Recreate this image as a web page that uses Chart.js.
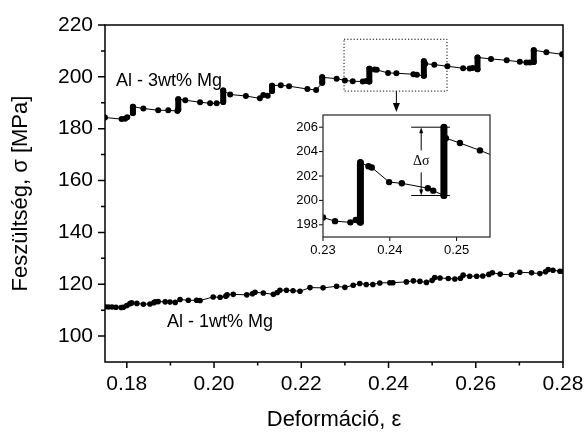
<!DOCTYPE html>
<html>
<head>
<meta charset="utf-8">
<script src="https://cdn.jsdelivr.net/npm/chart.js@4.4.0/dist/chart.umd.min.js"></script>
<style>
  body { margin: 0; background: #fff; }
  #wrap { position: relative; width: 588px; height: 433px; }
  #mainChart { position: absolute; left: 0; top: 0; }
  #insetChart { position: absolute; left: 270px; top: 105px; }
</style>
</head>
<body>
<div id="wrap">
  <canvas id="mainChart" width="588" height="433"></canvas>
  <canvas id="insetChart" width="230" height="160"></canvas>
</div>
<script>
const FONT = '"Liberation Sans", Arial, sans-serif';

// --- DATA ---
// Al - 3wt% Mg (jump ends listed twice: bottom then top)
const upStrain = [0.1750, 0.1788, 0.1796, 0.1801, 0.1814, 0.1814, 0.1838, 0.1872, 0.1895, 0.1916,
  0.1918, 0.1918, 0.1934, 0.1968, 0.1991, 0.2006, 0.2021, 0.2021, 0.2037, 0.2073,
  0.2105, 0.2113, 0.2123, 0.2133, 0.2133, 0.2153, 0.2172, 0.2214, 0.2234, 0.2248,
  0.2248, 0.2281, 0.2300, 0.2318, 0.2341, 0.2349, 0.2354, 0.2356, 0.2356, 0.2368,
  0.2373, 0.2399, 0.2418, 0.2457, 0.2465, 0.2481, 0.2481, 0.2484, 0.2505, 0.2535,
  0.2571, 0.2586, 0.2593, 0.2604, 0.2604, 0.2635, 0.2671, 0.2701, 0.2716, 0.2724,
  0.2733, 0.2733, 0.2762, 0.2798, 0.2800];
const upStress = [184.3, 183.7, 183.8, 184.4, 186.1, 188.5, 187.8, 187.1, 187.1, 186.8,
  187.4, 191.4, 191.0, 190.2, 189.8, 189.8, 190.3, 194.7, 193.2, 192.6,
  191.7, 193.0, 192.7, 194.5, 196.6, 196.8, 196.4, 195.3, 194.9, 197.7,
  199.8, 199.3, 198.6, 198.3, 198.2, 198.4, 198.3, 198.2, 203.1, 202.8,
  202.7, 201.5, 201.4, 201.0, 200.8, 200.4, 206.0, 205.1, 204.7, 204.1,
  203.3, 203.2, 203.4, 202.9, 207.5, 206.9, 206.4, 205.8, 205.5, 205.5,
  205.7, 210.3, 209.5, 208.7, 208.6];

// serration jumps (drawn as dense bars of points)
const jumpStrain = [0.1814, 0.1918, 0.2021, 0.2133, 0.2248, 0.2356, 0.2481, 0.2604, 0.2733];
const jumpLow    = [186.1, 187.4, 190.3, 194.5, 197.7, 198.2, 200.4, 202.9, 205.7];
const jumpHigh   = [188.5, 191.4, 194.7, 196.6, 199.8, 203.1, 206.0, 207.5, 210.3];

// Al - 1wt% Mg
const lowStrain = [0.1750, 0.1758, 0.1766, 0.1775, 0.1787, 0.1792, 0.1800, 0.1807, 0.1811, 0.1823,
  0.1838, 0.1853, 0.1862, 0.1865, 0.1872, 0.1888, 0.1899, 0.1911, 0.1922, 0.1941,
  0.1960, 0.1968, 0.1998, 0.2014, 0.2027, 0.2030, 0.2044, 0.2075, 0.2088, 0.2094,
  0.2113, 0.2136, 0.2145, 0.2151, 0.2166, 0.2181, 0.2197, 0.2220, 0.2250, 0.2281,
  0.2300, 0.2319, 0.2334, 0.2349, 0.2364, 0.2380, 0.2403, 0.2410, 0.2441, 0.2457,
  0.2472, 0.2487, 0.2500, 0.2506, 0.2518, 0.2537, 0.2552, 0.2565, 0.2571, 0.2586,
  0.2602, 0.2616, 0.2630, 0.2638, 0.2656, 0.2682, 0.2701, 0.2728, 0.2747, 0.2760,
  0.2766, 0.2777, 0.2793, 0.2800];
const lowStress = [111.3, 111.2, 111.2, 111.1, 111.0, 111.1, 111.8, 112.5, 112.8, 112.6,
  112.3, 112.4, 112.9, 113.2, 113.3, 113.2, 113.1, 113.0, 114.1, 113.8,
  113.8, 113.7, 115.1, 115.0, 115.4, 115.9, 116.1, 115.9, 116.3, 116.9,
  116.6, 116.1, 116.8, 117.7, 117.7, 117.5, 117.3, 118.7, 118.6, 119.2,
  118.8, 119.6, 120.3, 119.9, 119.9, 120.5, 120.6, 120.6, 120.9, 121.3,
  121.1, 120.7, 121.5, 122.6, 122.4, 122.2, 122.0, 122.3, 123.5, 123.1,
  123.1, 123.2, 123.8, 124.4, 123.9, 123.6, 124.6, 124.4, 124.1, 124.8,
  125.7, 125.4, 125.0, 125.0];

// tick values
const xTicksMain = [0.18, 0.20, 0.22, 0.24, 0.26, 0.28];
const xMinorMain = [0.19, 0.21, 0.23, 0.25, 0.27];
const yTicksMain = [100, 120, 140, 160, 180, 200, 220];
const yMinorMain = [110, 130, 150, 170, 190, 210];
const xTicksInset = [0.23, 0.24, 0.25];
const yTicksInset = [198, 200, 202, 204, 206];

function pairs(xs, ys) {
  return xs.map((x, i) => ({ x: x, y: ys[i] }));
}

// bottom/top of each jump, with a gap between jumps
function jumpBars() {
  const out = [];
  jumpStrain.forEach((x, i) => {
    out.push({ x: x, y: jumpLow[i] }, { x: x, y: jumpHigh[i] }, { x: x, y: null });
  });
  return out;
}

function seriesSets(pr, barW) {
  return [
    { data: pairs(upStrain, upStress), showLine: true, borderColor: '#000', borderWidth: 1,
      pointRadius: pr, pointBackgroundColor: '#000', pointBorderWidth: 0 },
    { data: jumpBars(), showLine: true, borderColor: '#000', borderWidth: barW,
      borderCapStyle: 'round', pointRadius: 0, spanGaps: false }
  ];
}

// --- MAIN CHART ---
const mainDecor = {
  id: 'mainDecor',
  afterDraw(chart) {
    const { ctx, chartArea: a, scales: { x, y } } = chart;
    ctx.save();
    ctx.strokeStyle = '#000';
    ctx.fillStyle = '#000';
    ctx.lineWidth = 1.5;
    ctx.strokeRect(a.left, a.top, a.right - a.left, a.bottom - a.top);

    ctx.beginPath();
    xTicksMain.forEach(v => { const p = x.getPixelForValue(v); ctx.moveTo(p, a.bottom); ctx.lineTo(p, a.bottom + 6); });
    xMinorMain.forEach(v => { const p = x.getPixelForValue(v); ctx.moveTo(p, a.bottom); ctx.lineTo(p, a.bottom + 3.5); });
    yTicksMain.forEach(v => { const p = y.getPixelForValue(v); ctx.moveTo(a.left, p); ctx.lineTo(a.left - 7, p); });
    yMinorMain.forEach(v => { const p = y.getPixelForValue(v); ctx.moveTo(a.left, p); ctx.lineTo(a.left - 4, p); });
    ctx.stroke();

    ctx.font = '18px ' + FONT;
    ctx.textBaseline = 'alphabetic';
    ctx.fillText('Al - 3wt% Mg', x.getPixelForValue(0.1775), y.getPixelForValue(196.3));
    ctx.fillText('Al - 1wt% Mg', x.getPixelForValue(0.1892), y.getPixelForValue(103.5));

    // dotted zoom box
    const bx0 = x.getPixelForValue(0.2298), bx1 = x.getPixelForValue(0.2534);
    const by0 = y.getPixelForValue(214.5), by1 = y.getPixelForValue(194.5);
    ctx.lineWidth = 1;
    ctx.setLineDash([1.2, 2]);
    ctx.strokeRect(bx0, by0, bx1 - bx0, by1 - by0);
    ctx.setLineDash([]);

    // arrow down to inset
    const ax = x.getPixelForValue(0.2418);
    ctx.beginPath();
    ctx.moveTo(ax, by1);
    ctx.lineTo(ax, by1 + 14);
    ctx.stroke();
    ctx.beginPath();
    ctx.moveTo(ax - 3.5, by1 + 12);
    ctx.lineTo(ax + 3.5, by1 + 12);
    ctx.lineTo(ax, by1 + 21);
    ctx.closePath();
    ctx.fill();
    ctx.restore();
  }
};

new Chart(document.getElementById('mainChart'), {
  type: 'scatter',
  data: {
    datasets: seriesSets(3, 6).concat([
      { data: pairs(lowStrain, lowStress), showLine: true, borderColor: '#000', borderWidth: 1,
        pointRadius: 2.8, pointBackgroundColor: '#000', pointBorderWidth: 0 }
    ])
  },
  options: {
    responsive: false,
    animation: false,
    devicePixelRatio: 1,
    layout: { padding: { top: 25, right: 25, left: 0, bottom: 0 } },
    plugins: { legend: { display: false }, tooltip: { enabled: false } },
    scales: {
      x: {
        type: 'linear', position: 'bottom', min: 0.175, max: 0.28,
        grid: { display: false, drawTicks: false }, border: { display: false },
        afterBuildTicks: s => { s.ticks = xTicksMain.map(v => ({ value: v })); },
        afterFit: s => { s.height = 71; s.paddingLeft = 0; s.paddingRight = 0; },
        ticks: { color: '#000', padding: 10, maxRotation: 0, font: { family: FONT, size: 21 },
          callback: v => v.toFixed(2) },
        title: { display: true, text: 'Deformáció, ε', color: '#000',
          font: { family: FONT, size: 22 }, padding: { top: 0, bottom: 0 } }
      },
      y: {
        type: 'linear', min: 90, max: 220,
        grid: { display: false, drawTicks: false }, border: { display: false },
        afterBuildTicks: s => { s.ticks = yTicksMain.map(v => ({ value: v })); },
        afterFit: s => { s.width = 105; s.paddingTop = 0; s.paddingBottom = 0; },
        ticks: { color: '#000', padding: 12, font: { family: FONT, size: 21 },
          callback: v => String(v) },
        title: { display: true, text: 'Feszültség, σ [MPa]', color: '#000',
          font: { family: FONT, size: 22 }, padding: { top: 8, bottom: 0 } }
      }
    }
  },
  plugins: [mainDecor]
});

// --- INSET ---
const insetDecor = {
  id: 'insetDecor',
  beforeDraw(chart) {
    const { ctx, chartArea: a } = chart;
    ctx.save();
    ctx.fillStyle = '#fff';
    ctx.fillRect(a.left, a.top, a.right - a.left, a.bottom - a.top);
    ctx.restore();
  },
  afterDraw(chart) {
    const { ctx, chartArea: a, scales: { x, y } } = chart;
    ctx.save();
    ctx.strokeStyle = '#000';
    ctx.fillStyle = '#000';
    ctx.lineWidth = 1;
    ctx.beginPath();
    xTicksInset.forEach(v => { const p = x.getPixelForValue(v); ctx.moveTo(p, a.bottom); ctx.lineTo(p, a.bottom + 4); });
    yTicksInset.forEach(v => { const p = y.getPixelForValue(v); ctx.moveTo(a.left, p); ctx.lineTo(a.left - 4, p); });
    ctx.stroke();
    ctx.strokeStyle = '#333';
    ctx.lineWidth = 1.3;
    ctx.strokeRect(a.left, a.top, a.right - a.left, a.bottom - a.top);

    // delta sigma marker
    ctx.strokeStyle = '#000';
    ctx.lineWidth = 1;
    const l0 = x.getPixelForValue(0.2432), l1 = x.getPixelForValue(0.2490);
    const yt = y.getPixelForValue(206.0), yb = y.getPixelForValue(200.4);
    const ax = x.getPixelForValue(0.2447);
    const ym = (yt + yb) / 2;
    ctx.beginPath();
    ctx.moveTo(l0, yt); ctx.lineTo(l1, yt);
    ctx.moveTo(l0, yb); ctx.lineTo(l1, yb);
    ctx.moveTo(ax, yt + 3); ctx.lineTo(ax, ym - 11);
    ctx.moveTo(ax, ym + 11); ctx.lineTo(ax, yb - 3);
    ctx.stroke();
    ctx.beginPath();
    ctx.moveTo(ax, yt); ctx.lineTo(ax - 2, yt + 6); ctx.lineTo(ax + 2, yt + 6); ctx.closePath();
    ctx.moveTo(ax, yb); ctx.lineTo(ax - 2, yb - 6); ctx.lineTo(ax + 2, yb - 6); ctx.closePath();
    ctx.fill();
    ctx.font = '14px "Liberation Serif", "Times New Roman", serif';
    ctx.textAlign = 'center';
    ctx.textBaseline = 'middle';
    ctx.fillText('Δσ', ax, ym);
    ctx.restore();
  }
};

new Chart(document.getElementById('insetChart'), {
  type: 'scatter',
  data: { datasets: seriesSets(3.2, 7) },
  options: {
    responsive: false,
    animation: false,
    devicePixelRatio: 1,
    layout: { padding: { top: 10, right: 10, left: 0, bottom: 0 } },
    plugins: { legend: { display: false }, tooltip: { enabled: false } },
    scales: {
      x: {
        type: 'linear', min: 0.23, max: 0.255,
        grid: { display: false, drawTicks: false }, border: { display: false },
        afterBuildTicks: s => { s.ticks = xTicksInset.map(v => ({ value: v })); },
        afterFit: s => { s.height = 28; s.paddingLeft = 0; s.paddingRight = 0; },
        ticks: { color: '#000', padding: 6, maxRotation: 0, font: { family: FONT, size: 13 },
          callback: v => v.toFixed(2) }
      },
      y: {
        type: 'linear', min: 197, max: 207,
        grid: { display: false, drawTicks: false }, border: { display: false },
        afterBuildTicks: s => { s.ticks = yTicksInset.map(v => ({ value: v })); },
        afterFit: s => { s.width = 53; s.paddingTop = 0; s.paddingBottom = 0; },
        ticks: { color: '#000', padding: 5, font: { family: FONT, size: 13 },
          callback: v => String(v) }
      }
    }
  },
  plugins: [insetDecor]
});
</script>
</body>
</html>
